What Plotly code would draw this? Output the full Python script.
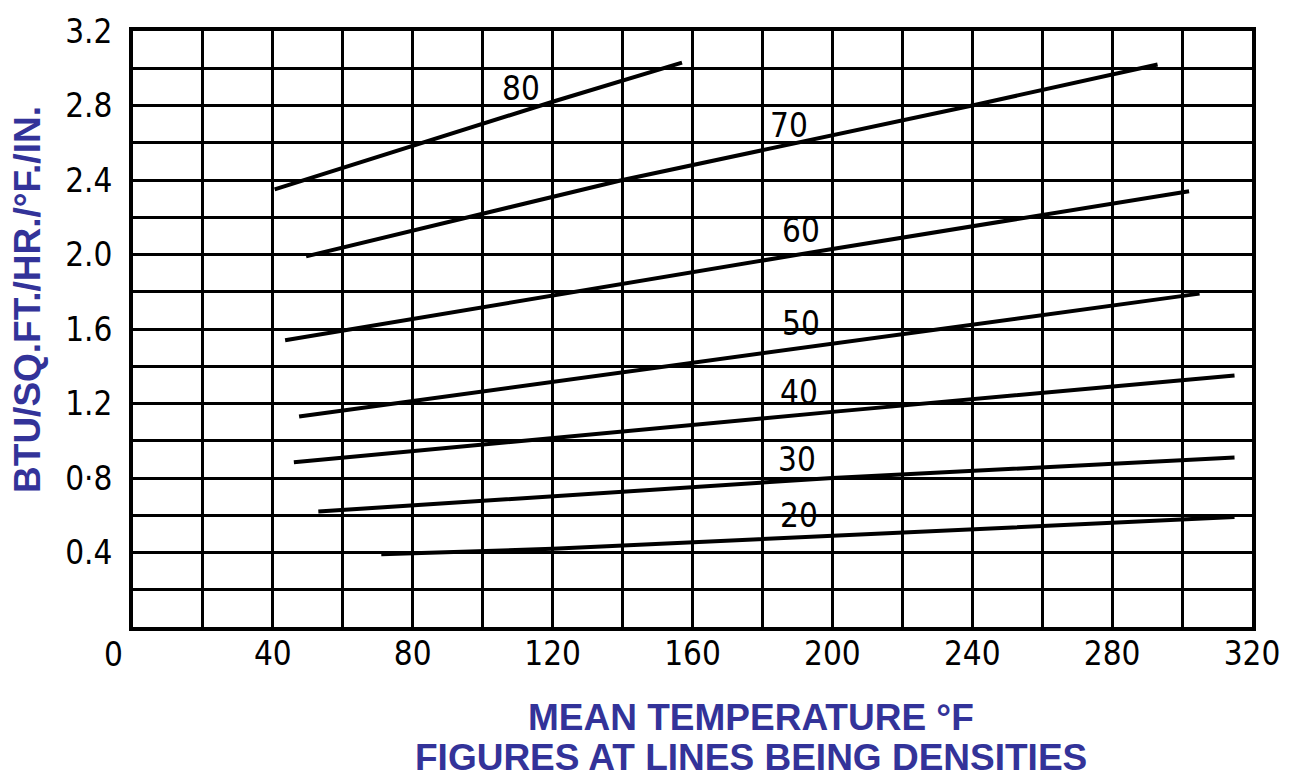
import plotly.graph_objects as go

# ---- data ----
densities = ["80", "70", "60", "50", "40", "30", "20"]
x_80 = [40.5, 120, 157]
y_80 = [2.35, 2.82, 3.03]
x_70 = [49.5, 140, 240, 293]
y_70 = [1.99, 2.40, 2.80, 3.02]
x_60 = [43.5, 120, 200, 302]
y_60 = [1.54, 1.78, 2.03, 2.34]
x_50 = [47.5, 200, 305]
y_50 = [1.13, 1.52, 1.79]
x_40 = [46, 200, 315]
y_40 = [0.885, 1.155, 1.35]
x_30 = [53, 120, 200, 315]
y_30 = [0.62, 0.70, 0.80, 0.91]
x_20 = [71, 120, 315]
y_20 = [0.39, 0.42, 0.59]

label_x = [111, 187.5, 191, 191, 190.5, 190, 190.5]
label_y = [2.89, 2.69, 2.13, 1.63, 1.26, 0.90, 0.60]

x_tickvals = list(range(0, 321, 20))
x_ticktext = ["", "", "40", "", "80", "", "120", "", "160", "", "200", "", "240", "", "280", "", "320"]
x_origin_label = "0"
y_tickvals = [round(0.2 * i, 1) for i in range(17)]
y_ticktext = ["", "", "0.4", "", "0·8", "", "1.2", "", "1.6", "", "2.0", "", "2.4", "", "2.8", "", "3.2"]

x_title = "MEAN TEMPERATURE °F"
x_subtitle = "FIGURES AT LINES BEING DENSITIES"
y_title = "BTU/SQ.FT./HR./°F./IN."

series = [(x_80, y_80), (x_70, y_70), (x_60, y_60), (x_50, y_50),
          (x_40, y_40), (x_30, y_30), (x_20, y_20)]

NUM_FONT = "DejaVu Sans Condensed, DejaVu Sans, sans-serif"
TITLE_FONT = "Liberation Sans, Arial, sans-serif"
TITLE_COLOR = "#333399"

fig = go.Figure()
for name, (xs, ys) in zip(densities, series):
    fig.add_trace(go.Scatter(x=xs, y=ys, mode="lines", name=name,
                             line=dict(color="black", width=4),
                             showlegend=False, hoverinfo="skip"))

for name, lx, ly in zip(densities, label_x, label_y):
    fig.add_annotation(x=lx, y=ly, text=name, showarrow=False,
                       font=dict(family=NUM_FONT, size=33, color="black"),
                       xanchor="center", yanchor="middle")

W, H = 1292, 778
L, R, T, B = 133, 40, 22, 151
pw = W - L - R
ph = H - T - B

def px(xp):
    return (xp - L) / pw

def py(yp):
    return (H - B - yp) / ph

fig.add_annotation(xref="paper", yref="paper", x=px(113), y=py(655),
                   text=x_origin_label, showarrow=False,
                   font=dict(family=NUM_FONT, size=33, color="black"),
                   xanchor="center", yanchor="middle")

fig.add_annotation(xref="paper", yref="paper", x=px(28), y=py(295),
                   text=y_title, textangle=-90, showarrow=False,
                   font=dict(family=TITLE_FONT, size=37, color=TITLE_COLOR, weight="bold"),
                   xanchor="center", yanchor="middle")
fig.add_annotation(xref="paper", yref="paper", x=px(751), y=py(719),
                   text=x_title, showarrow=False,
                   font=dict(family=TITLE_FONT, size=37, color=TITLE_COLOR, weight="bold"),
                   xanchor="center", yanchor="middle")
fig.add_annotation(xref="paper", yref="paper", x=px(751), y=py(759),
                   text=x_subtitle, showarrow=False,
                   font=dict(family=TITLE_FONT, size=37, color=TITLE_COLOR, weight="bold"),
                   xanchor="center", yanchor="middle")

fig.update_layout(
    width=W, height=H,
    margin=dict(l=L, r=R, t=T, b=B),
    paper_bgcolor="white", plot_bgcolor="white",
    xaxis=dict(range=[0, 320], tickvals=x_tickvals, ticktext=x_ticktext,
               showgrid=True, gridcolor="black", gridwidth=2.5,
               showline=True, linecolor="black", linewidth=4, mirror=True,
               zeroline=False, ticks="", ticklabelstandoff=-6,
               tickfont=dict(family=NUM_FONT, size=33, color="black")),
    yaxis=dict(range=[0, 3.2], tickvals=y_tickvals, ticktext=y_ticktext,
               showgrid=True, gridcolor="black", gridwidth=2.5,
               showline=True, linecolor="black", linewidth=4, mirror=True,
               zeroline=False, ticks="", ticklabelstandoff=10,
               tickfont=dict(family=NUM_FONT, size=33, color="black")),
)

fig.write_html("out.html")
